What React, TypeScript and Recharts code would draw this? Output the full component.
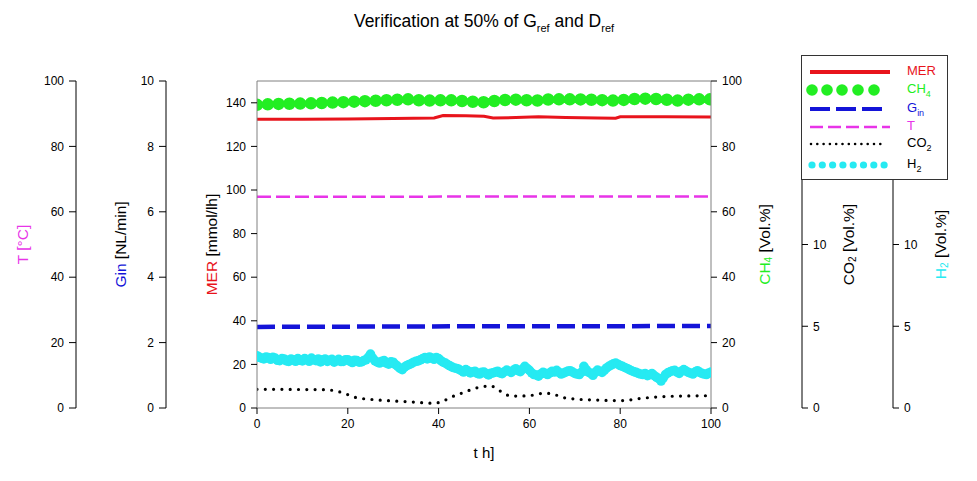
import { ComposedChart, Legend, Line, ReferenceLine, XAxis, YAxis } from "recharts";

const FONT = '"Liberation Sans", Arial, sans-serif';

const timeTicks = [0, 20, 40, 60, 80, 100];
const merTicks = [0, 20, 40, 60, 80, 100, 120, 140];
const tempTicks = [0, 20, 40, 60, 80, 100];
const ginTicks = [0, 2, 4, 6, 8, 10];
const ch4Ticks = [0, 20, 40, 60, 80, 100];
const gasTicks = [0, 5, 10];

// MER [mmol/lh]
const merTime = [0, 10, 20, 30, 39, 40, 41, 46, 50, 52, 57, 62, 68, 75, 79, 80, 90, 100];
const merValues = [132.4, 132.5, 132.6, 132.8, 133.0, 133.6, 134.2, 134.1, 133.8, 133.0, 133.2, 133.6, 133.2, 133.0, 132.9, 133.6, 133.6, 133.5];

// CH4 [Vol.%]
const ch4Time = [0, 5, 10, 15, 20, 25, 30, 33, 37, 42, 46, 50, 53, 57, 61, 65, 70, 75, 79, 82, 86, 90, 93, 96, 100];
const ch4Values = [92.7, 93.0, 93.1, 93.3, 93.6, 93.9, 94.2, 94.4, 94.0, 94.1, 93.8, 93.5, 94.0, 94.3, 94.0, 94.4, 94.4, 94.2, 94.0, 94.4, 94.6, 94.3, 94.0, 94.4, 94.4];

// Gin [NL/min]
const ginTime = [0, 25, 50, 75, 100];
const ginValues = [2.48, 2.49, 2.5, 2.5, 2.51];

// T [°C]
const tempTime = [0, 100];
const tempValues = [64.6, 64.7];

// CO2 [Vol.%]
const co2Time = [0, 5, 10, 15, 19, 21.6, 25, 30, 34, 39, 41, 43, 46, 48, 49.6, 51.5, 53.2, 54.6, 56, 59.7, 63.3, 64.8, 67.3, 70, 74.4, 79.5, 81.7, 84, 87, 93, 100];
const co2Values = [1.14, 1.14, 1.13, 1.12, 0.92, 0.65, 0.53, 0.43, 0.37, 0.29, 0.43, 0.69, 1.0, 1.2, 1.3, 1.35, 1.1, 0.86, 0.73, 0.75, 0.9, 0.88, 0.65, 0.55, 0.49, 0.45, 0.48, 0.57, 0.65, 0.73, 0.75];

// H2 [Vol.%], samples on the full hour (t = 0..100)
const h2Values = [
  3.2, 3.05, 3.12, 2.98, 3.05, 2.9, 3.0, 2.85, 2.95, 3.02,
  2.88, 2.97, 3.05, 2.9, 2.82, 3.0, 2.92, 2.8, 2.98, 2.85,
  2.95, 2.78, 2.9, 2.82, 2.95, 3.3, 2.88, 2.75, 2.9, 2.68,
  2.8, 2.55, 2.35, 2.6, 2.72, 2.85, 2.95, 3.08, 3.12, 2.98,
  3.02, 2.8, 2.65, 2.5, 2.42, 2.28, 2.35, 2.15, 2.25, 2.08,
  2.2, 2.02, 2.15, 2.25, 2.1, 2.32, 2.18, 2.4, 2.22, 2.55,
  2.3, 2.05, 1.95, 2.18, 2.05, 2.25, 2.3, 2.08, 2.2, 2.28,
  2.12, 2.05, 2.55, 2.2, 2.0, 2.32, 2.18, 2.45, 2.62, 2.75,
  2.6, 2.48, 2.35, 2.22, 2.12, 2.05, 1.98, 2.1, 1.88, 1.65,
  2.05, 2.22, 2.3, 2.12, 2.35, 2.18, 2.08, 2.28, 2.12, 2.05,
  2.2,
];

// H2 [Vol.%], samples on the half hour (t = 0.5..99.5)
const h2HalfValues = [
  3.1, 3.0, 3.08, 3.1, 2.92, 3.02, 2.88, 3.0, 2.86, 2.92,
  3.02, 2.86, 2.95, 3.0, 2.95, 2.85, 2.98, 2.9, 2.84, 2.95,
  2.86, 2.92, 2.8, 2.9, 3.1, 3.05, 2.8, 2.86, 2.75, 2.82,
  2.65, 2.42, 2.5, 2.66, 2.8, 2.88, 3.02, 3.0, 3.05, 3.08,
  2.9, 2.75, 2.58, 2.45, 2.36, 2.2, 2.26, 2.22, 2.12, 2.18,
  2.1, 2.12, 2.2, 2.15, 2.22, 2.25, 2.3, 2.28, 2.38, 2.42,
  2.15, 2.02, 2.08, 2.12, 2.15, 2.2, 2.18, 2.14, 2.26, 2.2,
  2.08, 2.2, 2.35, 2.12, 2.18, 2.25, 2.3, 2.55, 2.7, 2.68,
  2.55, 2.42, 2.28, 2.18, 2.08, 2.1, 2.04, 1.98, 1.8, 1.85,
  2.15, 2.28, 2.2, 2.25, 2.26, 2.14, 2.2, 2.18, 2.08, 2.14,
];

const RED = "#e8141c";
const GREEN = "#22ee22";
const BLUE = "#1414d8";
const MAGENTA = "#e834e8";
const CYAN = "#26eaf2";
const FRAME = "#808080";

const merData = merTime.map((t, i) => ({ t, mer: merValues[i] }));
const ch4Data = ch4Time.map((t, i) => ({ t, ch4: ch4Values[i] }));
const ginData = ginTime.map((t, i) => ({ t, gin: ginValues[i] }));
const tempData = tempTime.map((t, i) => ({ t, temp: tempValues[i] }));
const co2Data = co2Time.map((t, i) => ({ t, co2: co2Values[i] }));
const h2Data = [
  ...h2Values.map((h2, i) => ({ t: i, h2 })),
  ...h2HalfValues.map((h2, i) => ({ t: i + 0.5, h2 })),
].sort((a, b) => a.t - b.t);

type Part = { text: string; color?: string; sub?: boolean };

function axisLabel(parts: Part[], side: "left" | "right", offset: number) {
  return (props: any) => {
    const vb = props.viewBox;
    const lineX = side === "left" ? vb.x + vb.width : vb.x;
    const cx = side === "left" ? lineX - offset : lineX + offset;
    const cy = vb.y + vb.height / 2;
    return (
      <text
        x={cx}
        y={cy}
        transform={`rotate(-90, ${cx}, ${cy})`}
        textAnchor="middle"
        dominantBaseline="central"
        fontSize={15.5}
        fontFamily={FONT}
      >
        {parts.map((p, i) =>
          p.sub ? (
            <tspan key={i} dy={4} fontSize={10} fill={p.color ?? "#000"}>
              {p.text}
            </tspan>
          ) : (
            <tspan key={i} dy={i > 0 && parts[i - 1].sub ? -4 : 0} fill={p.color ?? "#000"}>
              {p.text}
            </tspan>
          )
        )}
      </text>
    );
  };
}

const xLabel = (props: any) => {
  const vb = props.viewBox;
  return (
    <text x={vb.x + vb.width / 2} y={vb.y + 44} textAnchor="middle" dominantBaseline="central" fontSize={15} fontFamily={FONT} fill="#000">
      t h]
    </text>
  );
};

const tickStyle = { fill: "#000", fontSize: 12, fontFamily: FONT };

const legendRows = [
  { label: "MER", sub: "", color: RED, y: 16 },
  { label: "CH", sub: "4", color: GREEN, y: 34 },
  { label: "G", sub: "in", color: BLUE, y: 53 },
  { label: "T", sub: "", color: MAGENTA, y: 71 },
  { label: "CO", sub: "2", color: "#000", y: 88 },
  { label: "H", sub: "2", color: "#000", y: 109 },
];

function LegendBox() {
  return (
    <div
      style={{
        position: "relative",
        width: 147,
        height: 125,
        border: "1px solid #333",
        background: "#fff",
        boxSizing: "border-box",
        fontFamily: FONT,
      }}
    >
      <svg width={100} height={123} style={{ position: "absolute", left: 0, top: 0 }}>
        <line x1={8} x2={88} y1={16} y2={16} stroke={RED} strokeWidth={4} />
        {[10, 25, 40, 56, 72].map((x) => (
          <circle key={x} cx={x} cy={34} r={5.8} fill={GREEN} />
        ))}
        <line x1={8} x2={80} y1={53} y2={53} stroke={BLUE} strokeWidth={4} strokeDasharray="20 6" />
        <line x1={8} x2={88} y1={71} y2={71} stroke={MAGENTA} strokeWidth={2.5} strokeDasharray="13 5" />
        <line x1={9} x2={84} y1={88} y2={88} stroke="#000" strokeWidth={2.6} strokeDasharray="0 6.3" strokeLinecap="round" />
        {[10, 20.3, 30.6, 40.9, 51.2, 61.5, 71.8, 82.1].map((x) => (
          <circle key={x} cx={x} cy={109} r={3.6} fill={CYAN} />
        ))}
      </svg>
      {legendRows.map((r) => (
        <div
          key={r.label}
          style={{
            position: "absolute",
            left: 105,
            top: r.y - 9,
            fontSize: 13,
            lineHeight: "16px",
            color: r.color,
            whiteSpace: "nowrap",
          }}
        >
          {r.label}
          {r.sub && <sub style={{ fontSize: 9, verticalAlign: "-4px" }}>{r.sub}</sub>}
        </div>
      ))}
    </div>
  );
}

export default function App() {
  return (
    <div style={{ position: "absolute", left: 0, top: 0, width: 977, height: 481, background: "#fff" }}>
      <div
        style={{
          position: "absolute",
          left: 0,
          top: 11,
          width: 968,
          textAlign: "center",
          fontFamily: FONT,
          fontSize: 17.5,
          lineHeight: "20px",
          color: "#000",
          zIndex: 2,
        }}
      >
        Verification at 50% of G<sub style={{ fontSize: 11, verticalAlign: "-5px" }}>ref</sub> and D
        <sub style={{ fontSize: 11, verticalAlign: "-5px" }}>ref</sub>
      </div>
      <ComposedChart width={977} height={481} margin={{ top: 81, right: 0, bottom: 23, left: 0 }}>
        <XAxis
          xAxisId="t"
          type="number"
          dataKey="t"
          domain={[0, 100]}
          ticks={timeTicks}
          height={50}
          axisLine={{ stroke: FRAME }}
          tickLine={{ stroke: "#000" }}
          tickSize={6}
          tickMargin={5}
          tick={tickStyle}
          label={{ content: xLabel }}
          allowDataOverflow
        />
        {/* left axes are stacked outward in id order */}
        <YAxis
          yAxisId="a_mer"
          orientation="left"
          width={91}
          type="number"
          domain={[0, 150]}
          ticks={merTicks}
          axisLine={{ stroke: FRAME }}
          tickLine={{ stroke: "#000" }}
          tickSize={6}
          tickMargin={5}
          tick={tickStyle}
          label={{ content: axisLabel([{ text: "MER", color: RED }, { text: " [mmol/lh]" }], "left", 46) }}
        />
        <YAxis
          yAxisId="b_gin"
          orientation="left"
          width={90}
          type="number"
          domain={[0, 10]}
          ticks={ginTicks}
          axisLine={{ stroke: "#000" }}
          tickLine={{ stroke: "#000" }}
          tickSize={7}
          tickMargin={5}
          tick={tickStyle}
          label={{ content: axisLabel([{ text: "Gin", color: BLUE }, { text: " [NL/min]" }], "left", 46) }}
        />
        <YAxis
          yAxisId="c_temp"
          orientation="left"
          width={76}
          type="number"
          domain={[0, 100]}
          ticks={tempTicks}
          axisLine={{ stroke: "#000" }}
          tickLine={{ stroke: "#000" }}
          tickSize={7}
          tickMargin={5}
          tick={tickStyle}
          label={{ content: axisLabel([{ text: "T [°C]", color: MAGENTA }], "left", 54) }}
        />
        <YAxis
          yAxisId="a_ch4"
          orientation="right"
          width={91}
          type="number"
          domain={[0, 100]}
          ticks={ch4Ticks}
          axisLine={{ stroke: FRAME }}
          tickLine={{ stroke: "#000" }}
          tickSize={6}
          tickMargin={5}
          tick={tickStyle}
          label={{
            content: axisLabel(
              [{ text: "CH", color: GREEN }, { text: "4", color: GREEN, sub: true }, { text: " [Vol.%]" }],
              "right",
              53
            ),
          }}
        />
        <YAxis
          yAxisId="b_co2"
          orientation="right"
          width={91}
          type="number"
          domain={[0, 20]}
          ticks={gasTicks}
          axisLine={{ stroke: "#000" }}
          tickLine={{ stroke: "#000" }}
          tickSize={6}
          tickMargin={5}
          tick={tickStyle}
          label={{ content: axisLabel([{ text: "CO" }, { text: "2", sub: true }, { text: " [Vol.%]" }], "right", 46) }}
        />
        <YAxis
          yAxisId="c_h2"
          orientation="right"
          width={84}
          type="number"
          domain={[0, 20]}
          ticks={gasTicks}
          axisLine={{ stroke: "#000" }}
          tickLine={{ stroke: "#000" }}
          tickSize={6}
          tickMargin={5}
          tick={tickStyle}
          label={{
            content: axisLabel([{ text: "H", color: CYAN }, { text: "2", color: CYAN, sub: true }, { text: " [Vol.%]" }], "right", 47),
          }}
        />
        <ReferenceLine xAxisId="t" yAxisId="a_mer" y={150} stroke={FRAME} />
        <Line
          xAxisId="t"
          yAxisId="c_temp"
          data={tempData}
          dataKey="temp"
          type="linear"
          stroke={MAGENTA}
          strokeWidth={2.5}
          strokeDasharray="14 5"
          dot={false}
          activeDot={false}
          isAnimationActive={false}
        />
        <Line
          xAxisId="t"
          yAxisId="b_gin"
          data={ginData}
          dataKey="gin"
          type="linear"
          stroke={BLUE}
          strokeWidth={4.5}
          strokeDasharray="18 7"
          dot={false}
          activeDot={false}
          isAnimationActive={false}
        />
        <Line
          xAxisId="t"
          yAxisId="a_mer"
          data={merData}
          dataKey="mer"
          type="linear"
          stroke={RED}
          strokeWidth={3}
          dot={false}
          activeDot={false}
          isAnimationActive={false}
        />
        <Line
          xAxisId="t"
          yAxisId="a_ch4"
          data={ch4Data}
          dataKey="ch4"
          type="monotone"
          stroke={GREEN}
          strokeWidth={12.5}
          strokeDasharray="0 10.8"
          strokeLinecap="round"
          dot={false}
          activeDot={false}
          isAnimationActive={false}
        />
        <Line
          xAxisId="t"
          yAxisId="b_co2"
          data={co2Data}
          dataKey="co2"
          type="monotone"
          stroke="#000"
          strokeWidth={3.2}
          strokeDasharray="0 8.3"
          strokeLinecap="round"
          dot={false}
          activeDot={false}
          isAnimationActive={false}
        />
        <Line
          xAxisId="t"
          yAxisId="c_h2"
          data={h2Data}
          dataKey="h2"
          type="linear"
          stroke="none"
          dot={{ r: 4.8, fill: CYAN, stroke: "none" }}
          activeDot={false}
          isAnimationActive={false}
        />
        <Legend
          layout="horizontal"
          align="center"
          verticalAlign="middle"
          content={() => <LegendBox />}
          wrapperStyle={{ position: "absolute", left: 801, top: 55, width: 147, height: 125 }}
        />
      </ComposedChart>
    </div>
  );
}
